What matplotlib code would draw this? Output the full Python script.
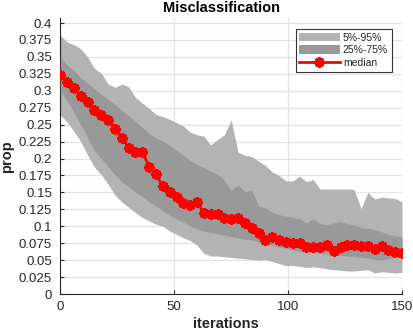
import matplotlib
matplotlib.use("Agg")
import matplotlib.pyplot as plt
from matplotlib.patches import Patch
from matplotlib.lines import Line2D
import numpy as np

plt.rcParams['font.family'] = ['Liberation Sans', 'DejaVu Sans']

iterations = list(range(0, 151, 3))

median = [0.324, 0.3135, 0.3045, 0.292, 0.284, 0.2716, 0.2645, 0.2566, 0.244, 0.231,
          0.216, 0.2095, 0.2095, 0.188, 0.177, 0.159, 0.151, 0.1436, 0.1338, 0.131,
          0.1353, 0.120, 0.1177, 0.1177, 0.1122, 0.1107, 0.1122, 0.105, 0.098, 0.0905,
          0.080, 0.0837, 0.080, 0.0772, 0.0748, 0.0748, 0.070, 0.069, 0.069, 0.0723,
          0.064, 0.069, 0.072, 0.0723, 0.071, 0.0713, 0.066, 0.0708, 0.065, 0.0615, 0.060]

p95 = [0.382, 0.372, 0.368, 0.362, 0.350, 0.333, 0.326, 0.310, 0.305, 0.310,
       0.306, 0.290, 0.282, 0.274, 0.265, 0.262, 0.258, 0.253, 0.248, 0.239,
       0.235, 0.233, 0.220, 0.228, 0.235, 0.257, 0.209, 0.205, 0.203, 0.196,
       0.190, 0.180, 0.175, 0.167, 0.167, 0.174, 0.166, 0.169, 0.155, 0.155,
       0.155, 0.155, 0.155, 0.154, 0.126, 0.150, 0.140, 0.143, 0.142, 0.141, 0.136]

p75 = [0.350, 0.338, 0.330, 0.319, 0.311, 0.303, 0.295, 0.287, 0.280, 0.271,
       0.263, 0.255, 0.246, 0.237, 0.230, 0.226, 0.219, 0.212, 0.205, 0.197,
       0.191, 0.187, 0.181, 0.177, 0.168, 0.153, 0.161, 0.151, 0.153, 0.130,
       0.127, 0.121, 0.117, 0.115, 0.113, 0.111, 0.105, 0.111, 0.104, 0.102,
       0.105, 0.107, 0.104, 0.102, 0.098, 0.097, 0.095, 0.092, 0.088, 0.086, 0.084]

p25 = [0.300, 0.285, 0.268, 0.250, 0.230, 0.212, 0.200, 0.188, 0.176, 0.166,
       0.158, 0.150, 0.144, 0.136, 0.130, 0.123, 0.116, 0.111, 0.106, 0.101,
       0.096, 0.093, 0.091, 0.089, 0.087, 0.085, 0.083, 0.081, 0.080, 0.077,
       0.074, 0.072, 0.069, 0.067, 0.065, 0.063, 0.062, 0.061, 0.060, 0.059,
       0.058, 0.057, 0.056, 0.055, 0.054, 0.053, 0.051, 0.050, 0.052, 0.054, 0.055]

p5 = [0.264, 0.254, 0.240, 0.225, 0.205, 0.187, 0.176, 0.162, 0.146, 0.136,
      0.128, 0.120, 0.113, 0.108, 0.103, 0.100, 0.093, 0.088, 0.083, 0.079,
      0.072, 0.060, 0.056, 0.056, 0.055, 0.054, 0.053, 0.052, 0.051, 0.050,
      0.051, 0.048, 0.045, 0.042, 0.042, 0.041, 0.039, 0.040, 0.039, 0.037,
      0.036, 0.035, 0.034, 0.034, 0.035, 0.036, 0.031, 0.033, 0.032, 0.031, 0.032]

xticks = [0, 50, 100, 150]
yticks = [i * 0.025 for i in range(17)]

light = '#b3b3b3'
dark = '#999999'
red = '#ff0000'
txt = '#262626'

fig = plt.figure(figsize=(4.14, 3.33), dpi=100)
ax = fig.add_axes([0.1457, 0.1171, 0.8254, 0.8279])

ax.fill_between(iterations, p5, p95, color=light, lw=0, zorder=2)
ax.fill_between(iterations, p25, p75, color=dark, lw=0, zorder=3)
ax.plot(iterations, median, color=red, lw=2, marker=(8, 2, 0), ms=7.5, mew=2.0,
        zorder=4)

ax.set_xlim(0, 150)
ax.set_ylim(0, 0.407)
ax.set_xticks(xticks)
ax.set_yticks(yticks)
ax.set_yticklabels(['%g' % round(v, 3) for v in yticks])
ax.grid(True, color='#e3e3e3', lw=0.9, zorder=0)
ax.set_axisbelow(True)
for s in ['top', 'right']:
    ax.spines[s].set_visible(False)
for s in ['left', 'bottom']:
    ax.spines[s].set_color(txt)
    ax.spines[s].set_linewidth(0.8)
ax.tick_params(direction='in', length=3, width=0.8, colors=txt, labelsize=9.5,
               labelcolor=txt)
ax.tick_params(axis='y', pad=6)
ax.tick_params(axis='x', pad=5)

fig.text(221 / 414, 1 - 8.5 / 333, 'Misclassification', ha='center', va='center',
         fontsize=10.5, fontweight='bold', color='black')
fig.text(226 / 414, 1 - 324 / 333, 'iterations', ha='center', va='center',
         fontsize=10.5, fontweight='bold', color=txt)
fig.text(7 / 414, 1 - 157 / 333, 'prop', ha='center', va='center', rotation=90,
         fontsize=10.5, fontweight='bold', color=txt)

handles = [Patch(facecolor=light, edgecolor='none'),
           Patch(facecolor=dark, edgecolor='none'),
           Line2D([], [], color=red, lw=2, marker=(8, 2, 0), ms=7.5, mew=2.0)]
labels = ['5%-95%', '25%-75%', 'median']
leg = ax.legend(handles, labels, loc='upper right', bbox_to_anchor=(391.7 / 414, 1 - 29 / 333),
                bbox_transform=fig.transFigure, borderaxespad=0, fontsize=7.5,
                fancybox=False, framealpha=1, edgecolor='#333333',
                handlelength=3.9, handleheight=0.85, handletextpad=0.3,
                labelspacing=0.25, borderpad=0.35)
leg.get_frame().set_linewidth(0.8)
for t in leg.get_texts():
    t.set_color(txt)

fig.savefig('out.png', dpi=100)
